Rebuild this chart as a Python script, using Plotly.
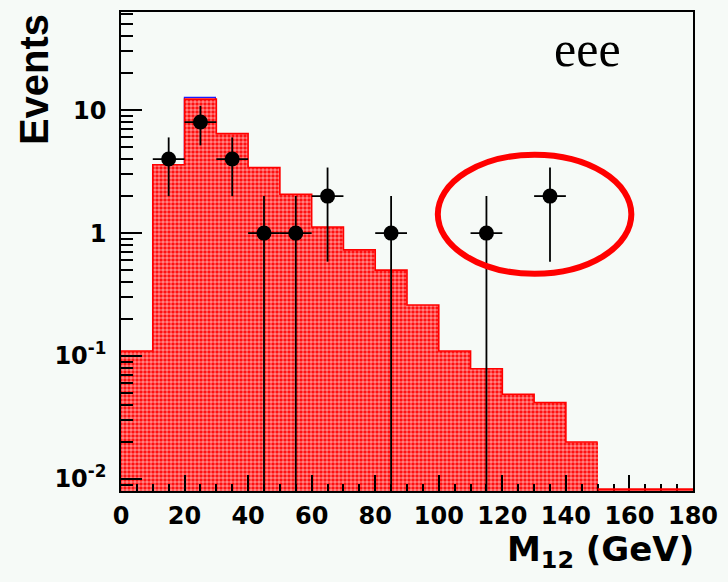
import numpy as np
import plotly.graph_objects as go

# M12 binning: 10 GeV bins from 0 to 180
bin_lo = [0, 10, 20, 30, 40, 50, 60, 70, 80, 90, 100, 110, 120, 130, 140, 150, 160, 170]
bin_width = 10

# expected background (main component, red) and small extra component (blue, stacked)
mc_main = [0.11, 3.6, 12.3, 6.44, 3.42, 2.07, 1.12, 0.73, 0.50, 0.26, 0.11, 0.079, 0.049, 0.042, 0.020, 0, 0, 0]
mc_extra = [0, 0, 0.35, 0, 0, 0, 0, 0, 0, 0, 0, 0, 0, 0, 0, 0, 0, 0]

# observed events
data_x = [15, 25, 35, 45, 55, 65, 85, 115, 135]
data_n = [4, 8, 4, 1, 1, 2, 1, 1, 2]

# region highlighted on the plot (x in GeV, y in events)
ring_x = [99.7, 160.6]
ring_y = [0.467, 4.34]

centers = [b + bin_width / 2 for b in bin_lo]
mc_total = [a + b for a, b in zip(mc_main, mc_extra)]
err = np.sqrt(np.array(data_n, dtype=float))

BG = "#f6faf7"
RED = "#ff0000"

fig = go.Figure()

# stacked extra component: blue outline only on bins where it contributes
fig.add_trace(go.Bar(
    x=centers, y=[t if e > 0 else None for t, e in zip(mc_total, mc_extra)], width=bin_width,
    marker=dict(color="rgba(0,0,0,0)", line=dict(color="#1a1aff", width=1.2)),
    hoverinfo="skip", showlegend=False,
))

# main background, checkered red fill
fig.add_trace(go.Bar(
    x=centers, y=[v if v > 0 else None for v in mc_main], width=bin_width,
    marker=dict(
        color=RED,
        line=dict(width=0),
        pattern=dict(shape=".", fgcolor="white", bgcolor=RED, size=4, solidity=0.65),
    ),
    showlegend=False,
))

# step outline of the main background (filled bins only)
filled = [i for i, v in enumerate(mc_main) if v > 0]
step_x = [bin_lo[i] for i in filled] + [bin_lo[filled[-1]] + bin_width]
step_y = [mc_main[i] for i in filled] + [mc_main[filled[-1]]]
fig.add_trace(go.Scatter(
    x=step_x, y=step_y, mode="lines", line=dict(color=RED, width=1.6, shape="hv"),
    hoverinfo="skip", showlegend=False,
))

# data points with Poisson errors
fig.add_trace(go.Scatter(
    x=data_x, y=data_n, mode="markers",
    marker=dict(color="black", size=15, symbol="circle"),
    error_y=dict(type="data", array=err, arrayminus=err, color="black", thickness=1.8, width=0),
    error_x=dict(type="data", array=[bin_width / 2] * len(data_x), color="black", thickness=1.8, width=0),
    showlegend=False,
))

shapes = []
# empty bins drawn at the minimum
empty = [b for b, v in zip(bin_lo, mc_main) if v == 0]
if empty:
    shapes.append(dict(type="line", xref="x", yref="paper",
                       x0=min(empty), x1=max(empty) + bin_width, y0=0.003, y1=0.003,
                       line=dict(color=RED, width=2.5)))
# red ellipse around the high-mass events
shapes.append(dict(type="circle", xref="x", yref="y",
                   x0=ring_x[0], x1=ring_x[1], y0=ring_y[0], y1=ring_y[1],
                   line=dict(color=RED, width=6)))

minor_y = [k * 10.0 ** e for e in range(-3, 2) for k in range(2, 10)]
minor_y = [v for v in minor_y if 0.0079 < v < 62]

tick_font = dict(family="DejaVu Sans", size=24, color="black", weight="bold")

fig.update_layout(
    width=728, height=582,
    margin=dict(l=121, r=31, t=10, b=91),
    paper_bgcolor=BG, plot_bgcolor=BG,
    barmode="overlay", bargap=0,
    showlegend=False,
    shapes=shapes,
    xaxis=dict(
        range=[0, 180], tickvals=list(range(0, 181, 20)),
        ticks="inside", ticklen=16, tickwidth=1.5, tickcolor="black",
        minor=dict(dtick=5, tick0=0, ticks="inside", ticklen=7, tickwidth=1.5, tickcolor="black", showgrid=False),
        showline=True, mirror=True, linecolor="black", linewidth=1.5,
        showgrid=False, zeroline=False, tickfont=tick_font, ticklabelstandoff=2,
    ),
    yaxis=dict(
        type="log", range=[-2.097, 1.798],
        tickvals=[0.01, 0.1, 1, 10],
        ticktext=["10<sup>-2</sup>", "10<sup>-1</sup>", "1", "10"],
        ticks="inside", ticklen=21, tickwidth=1.5, tickcolor="black",
        minor=dict(tickvals=minor_y, ticks="inside", ticklen=12, tickwidth=1.5, tickcolor="black", showgrid=False),
        showline=True, mirror=True, linecolor="black", linewidth=1.5,
        showgrid=False, zeroline=False, tickfont=tick_font, ticklabelstandoff=8,
    ),
    annotations=[
        dict(text="eee", xref="paper", yref="paper", x=(591 - 121) / 576, y=(491 - 47) / 481,
             xanchor="center", yanchor="middle", showarrow=False,
             font=dict(family="Liberation Serif", size=50, color="black")),
        dict(text="Events", xref="paper", yref="paper", x=(33 - 121) / 576, y=1.0,
             xanchor="center", yanchor="top", textangle=-90, showarrow=False,
             font=dict(family="Liberation Sans", size=40, color="black", weight="bold")),
        dict(text="M<sub>12</sub> (GeV)", xref="paper", yref="paper", x=(700 - 121) / 576, y=(491 - 552) / 481,
             xanchor="right", yanchor="middle", showarrow=False,
             font=dict(family="DejaVu Sans", size=34, color="black", weight="bold")),
    ],
)

fig.write_html("out.html")
